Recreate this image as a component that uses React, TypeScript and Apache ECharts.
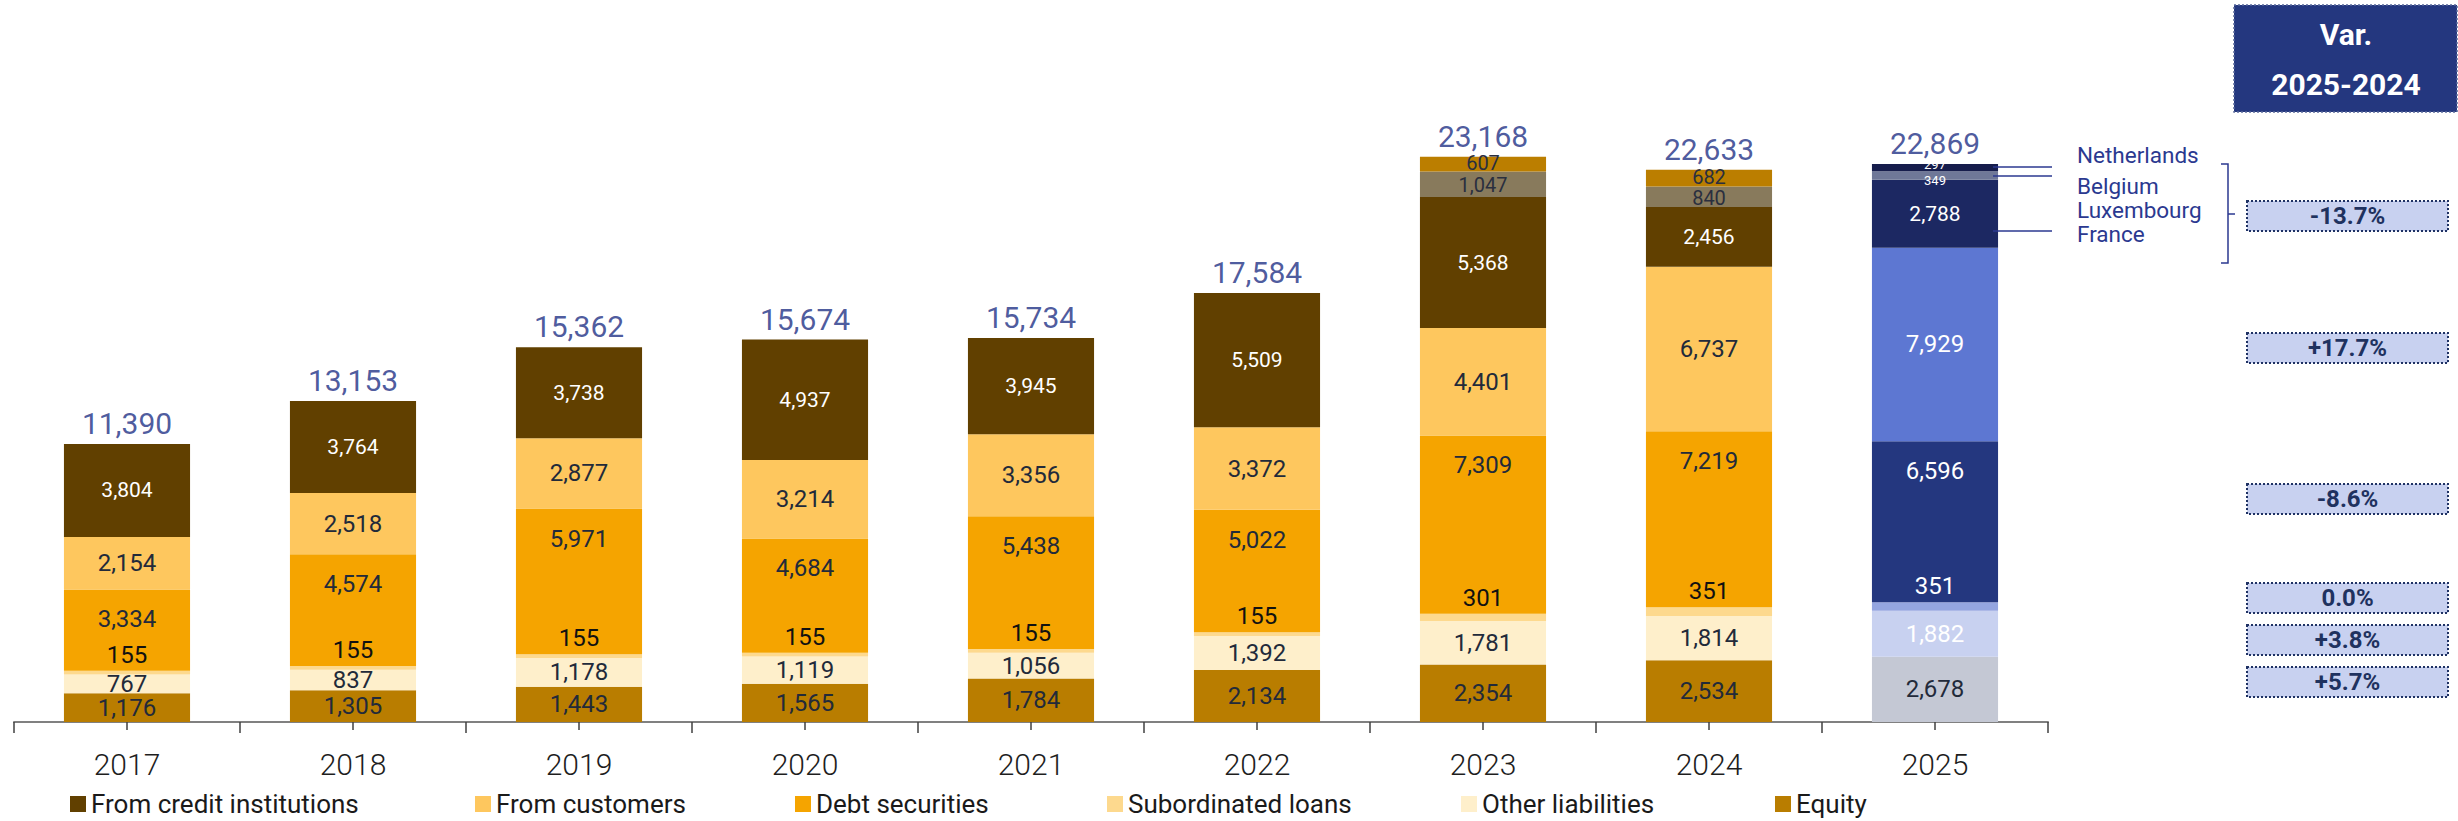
import React, { useEffect, useRef } from 'react';
import * as echarts from 'echarts';

// ---------- data ----------
const years = ['2017', '2018', '2019', '2020', '2021', '2022', '2023', '2024', '2025'];
const equity = [1176, 1305, 1443, 1565, 1784, 2134, 2354, 2534, 2678];
const otherLiabilities = [767, 837, 1178, 1119, 1056, 1392, 1781, 1814, 1882];
const subordinatedLoans = [155, 155, 155, 155, 155, 155, 301, 351, 351];
const debtSecurities = [3334, 4574, 5971, 4684, 5438, 5022, 7309, 7219, 6596];
const fromCustomers = [2154, 2518, 2877, 3214, 3356, 3372, 4401, 6737, 7929];
const fromCreditInstitutions = [3804, 3764, 3738, 4937, 3945, 5509, 5368, 2456, 2788];
const creditExtraA = [null, null, null, null, null, null, 1047, 840, 349];
const creditExtraB = [null, null, null, null, null, null, 607, 682, 297];
const totals = [11390, 13153, 15362, 15674, 15734, 17584, 23168, 22633, 22869];
const countries = ['Netherlands', 'Belgium', 'Luxembourg', 'France'];
const variations = ['-13.7%', '+17.7%', '-8.6%', '0.0%', '+3.8%', '+5.7%'];
const varHeader = ['Var.', '2025-2024'];

// ---------- styles ----------
const FONT = 'Roboto, "Noto Sans", sans-serif';
const DARK = '#222a3a';
const WHITE = '#ffffff';
const NAVY_TEXT = '#1e3085';

type SStyle = {
  name: string; data: (number | null)[]; color: string; color25: string;
  labelColor: string; labelColor25: string; size: number; size25: number;
  position: string; distance?: number; lineHeight?: number; offset?: number[]; offset25?: number[];
};

const stack: SStyle[] = [
  { name: 'Equity', data: equity, color: '#b97d00', color25: '#c4c8d4', labelColor: DARK, labelColor25: DARK, size: 24, size25: 24, position: 'inside' },
  { name: 'Other liabilities', data: otherLiabilities, color: '#feefcb', color25: '#c8d1f0', labelColor: DARK, labelColor25: WHITE, size: 24, size25: 24, position: 'inside' },
  { name: 'Subordinated loans', data: subordinatedLoans, color: '#fdd98e', color25: '#94a5e0', labelColor: '#111111', labelColor25: WHITE, size: 24, size25: 24, position: 'top', distance: 4 },
  { name: 'Debt securities', data: debtSecurities, color: '#f5a400', color25: '#24377f', labelColor: DARK, labelColor25: WHITE, size: 24, size25: 24, position: 'insideTop', distance: 18 },
  { name: 'From customers', data: fromCustomers, color: '#fec75e', color25: '#5d77d2', labelColor: DARK, labelColor25: WHITE, size: 24, size25: 24, position: 'inside' },
  { name: 'From credit institutions', data: fromCreditInstitutions, color: '#614000', color25: '#1c2862', labelColor: WHITE, labelColor25: WHITE, size: 21, size25: 21, position: 'inside' },
  { name: 'Credit extra A', data: creditExtraA, color: '#887a5c', color25: '#6f7898', labelColor: '#2a2f3f', labelColor25: WHITE, size: 20, size25: 13, position: 'inside', lineHeight: 17, offset: [0, 1], offset25: [0, 5] },
  { name: 'Credit extra B', data: creditExtraB, color: '#bb7e00', color25: '#161d4c', labelColor: '#2a2f3f', labelColor25: WHITE, size: 20, size25: 13, position: 'inside', lineHeight: 17, offset: [0, -1], offset25: [0, -3] },
];

const legendOrder = ['From credit institutions', 'From customers', 'Debt securities', 'Subordinated loans', 'Other liabilities', 'Equity'];
const legendLeft = [70, 475, 795, 1107, 1461, 1775];

const countryY = [155, 186, 210, 234];
const leaderY = [167, 176, 231];
const varCenterY = [216, 348, 499, 598, 640, 682];

const fmt = (v: number) => v.toLocaleString('en-US');

export default function App() {
  const ref = useRef<HTMLDivElement>(null);

  useEffect(() => {
    document.body.style.margin = '0';
    if (!ref.current) return;
    const chart = echarts.init(ref.current, null, { renderer: 'svg' });

    const barSeries = stack.map((s) => ({
      name: s.name,
      type: 'bar',
      stack: 'total',
      barWidth: '55.8%',
      itemStyle: { color: s.color },
      label: {
        show: true,
        position: s.position,
        distance: s.distance ?? 5,
        offset: s.offset ?? [0, 0],
        fontFamily: FONT,
        fontSize: s.size,
        fontWeight: 400,
        lineHeight: s.lineHeight,
        color: s.labelColor,
        formatter: (p: any) => (p.value == null || p.value === '-' ? '' : fmt(p.value)),
      },
      data: s.data.map((v, i) => {
        if (v == null) return '-';
        if (i === years.length - 1) {
          return {
            value: v,
            itemStyle: { color: s.color25 },
            label: {
              color: s.labelColor25,
              fontSize: s.size25,
              lineHeight: s.size25,
              offset: s.offset25 ?? [0, 0],
            },
          };
        }
        return v;
      }),
    }));

    const totalSeries = {
      name: 'Total',
      type: 'scatter',
      symbolSize: 1,
      itemStyle: { color: 'rgba(0,0,0,0)' },
      label: {
        show: true,
        position: 'top',
        distance: 5,
        fontFamily: FONT,
        fontSize: 30,
        fontWeight: 400,
        color: NAVY_TEXT,
        formatter: (p: any) => fmt(p.value),
      },
      data: totals,
      z: 5,
    };

    const legends = legendOrder.map((n, i) => ({
      data: [n],
      left: legendLeft[i],
      top: 791,
      padding: 0,
      icon: 'rect',
      itemWidth: 16,
      itemHeight: 16,
      selectedMode: false,
      textStyle: { fontFamily: FONT, fontSize: 26, fontWeight: 400, color: '#1a1a1a' },
    }));

    const LINE = '#2b3990';
    const graphics: any[] = [];
    leaderY.forEach((y) => {
      graphics.push({ type: 'line', shape: { x1: 1993, y1: y, x2: 2052, y2: y }, style: { stroke: LINE, lineWidth: 1.5 }, z: 10 });
    });
    countries.forEach((c, i) => {
      graphics.push({
        type: 'text', x: 2077, y: countryY[i],
        style: { text: c, fontFamily: FONT, fontSize: 22.5, fill: LINE, textVerticalAlign: 'middle', textAlign: 'left' },
      });
    });
    graphics.push({ type: 'polyline', shape: { points: [[2221, 164], [2228, 164], [2228, 263], [2221, 263]] }, style: { stroke: LINE, lineWidth: 1.5, fill: null } });
    graphics.push({ type: 'line', shape: { x1: 2228, y1: 214, x2: 2235, y2: 214 }, style: { stroke: LINE, lineWidth: 1.5 } });
    variations.forEach((t, i) => {
      const cy = varCenterY[i];
      graphics.push({
        type: 'rect', shape: { x: 2247, y: cy - 15, width: 201, height: 30 },
        style: { fill: '#c8d1f0', stroke: '#1f3264', lineWidth: 2, lineDash: [2, 2] },
      });
      graphics.push({
        type: 'text', x: 2347.5, y: cy,
        style: { text: t, fontFamily: FONT, fontSize: 24, fontWeight: 'bold', fill: '#1f325f', textAlign: 'center', textVerticalAlign: 'middle' },
      });
    });
    graphics.push({
      type: 'rect', shape: { x: 2234, y: 5, width: 223, height: 107 },
      style: { fill: '#24377f', stroke: '#5a6a9a', lineWidth: 1.5, lineDash: [2, 2] },
    });
    graphics.push({
      type: 'text', x: 2346, y: 34,
      style: { text: varHeader[0], fontFamily: FONT, fontSize: 30, fontWeight: 'bold', fill: '#ffffff', textAlign: 'center', textVerticalAlign: 'middle' },
    });
    graphics.push({
      type: 'text', x: 2346, y: 84,
      style: { text: varHeader[1], fontFamily: FONT, fontSize: 30, fontWeight: 'bold', fill: '#ffffff', textAlign: 'center', textVerticalAlign: 'middle' },
    });

    chart.setOption({
      animation: false,
      textStyle: { fontFamily: FONT },
      grid: { left: 14, right: 410, top: 112, bottom: 99, containLabel: false },
      legend: legends,
      xAxis: [
        {
          type: 'category',
          data: years,
          position: 'bottom',
          axisLine: { show: true, lineStyle: { color: '#808080', width: 2 } },
          axisTick: { show: true, alignWithLabel: false, length: 11, lineStyle: { color: '#404040', width: 1.5 } },
          axisLabel: { fontFamily: FONT, fontSize: 30, fontWeight: 300, color: '#1e1e1e', margin: 27 },
        },
        {
          type: 'category',
          data: years,
          position: 'bottom',
          axisLine: { show: false },
          axisTick: { show: true, alignWithLabel: true, length: 8, lineStyle: { color: '#404040', width: 1.5 } },
          axisLabel: { show: false },
        },
      ],
      yAxis: { type: 'value', min: 0, max: 25000, show: false, splitLine: { show: false } },
      series: [...barSeries, totalSeries],
      graphic: graphics,
    });

    return () => chart.dispose();
  }, []);

  return <div ref={ref} style={{ width: 2458, height: 821 }} />;
}
